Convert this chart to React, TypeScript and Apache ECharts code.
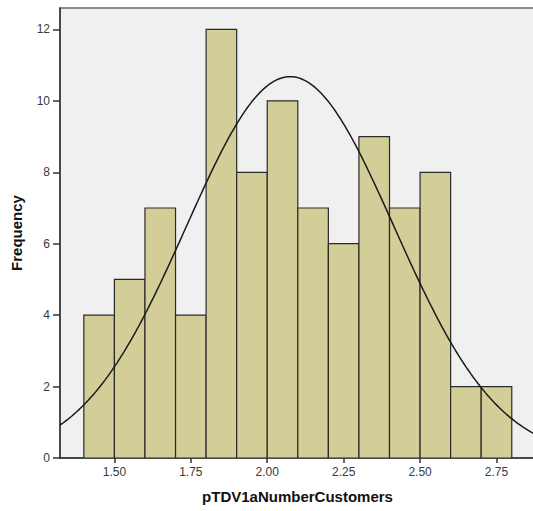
import React, { useEffect, useRef } from "react";
import * as echarts from "echarts";

const binStarts = [1.4, 1.5, 1.6, 1.7, 1.8, 1.9, 2.0, 2.1, 2.2, 2.3, 2.4, 2.5, 2.6, 2.7];
const counts = [4, 5, 7, 4, 12, 8, 10, 7, 6, 9, 7, 8, 2, 2];
const binWidth = 0.1;
const xTicks = [1.5, 1.75, 2.0, 2.25, 2.5, 2.75];
const yTicks = [0, 2, 4, 6, 8, 10, 12];
const fitMean = 2.075;
const fitSd = 0.34;
const fitN = 91;
const xMin = 1.322;
const xMax = 2.876;

export default function App() {
  const ref = useRef<HTMLDivElement>(null);
  useEffect(() => {
    if (!ref.current) return;
    const chart = echarts.init(ref.current, null, { renderer: "svg" });
    const barData = binStarts.map((s, i) => [s, s + binWidth, counts[i]]);
    const curve: number[][] = [];
    const steps = 200;
    for (let i = 0; i <= steps; i++) {
      const x = xMin + ((xMax - xMin) * i) / steps;
      const z = (x - fitMean) / fitSd;
      const y = (fitN * binWidth) / (fitSd * Math.sqrt(2 * Math.PI)) * Math.exp(-0.5 * z * z);
      curve.push([x, y]);
    }
    const font = "'Liberation Sans', Arial, sans-serif";
    chart.setOption({
      animation: false,
      grid: {
        left: 60,
        top: 8,
        right: -2,
        bottom: 53,
        containLabel: false,
        outerBoundsMode: "none",
        show: true,
        backgroundColor: "#f0f0f0",
        borderColor: "#666",
        borderWidth: 1.5,
      },
      xAxis: {
        type: "value",
        min: xMin,
        max: xMax,
        name: "pTDV1aNumberCustomers",
        nameLocation: "middle",
        nameGap: 31,
        nameTextStyle: { fontFamily: font, fontWeight: "bold", fontSize: 15, color: "#111" },
        axisLine: { show: true, onZero: false, lineStyle: { color: "#333", width: 1.5 } },
        axisTick: { show: true, length: 5, customValues: xTicks, lineStyle: { color: "#333", width: 1.5 } },
        axisLabel: {
          customValues: xTicks,
          formatter: (v: number) => v.toFixed(2),
          fontFamily: font,
          fontSize: 12,
          color: "#3a3a3a",
          margin: 8,
        },
        splitLine: { show: false },
      },
      yAxis: {
        type: "value",
        min: 0,
        max: 12.6,
        name: "Frequency",
        nameLocation: "middle",
        nameGap: 36,
        nameTextStyle: { fontFamily: font, fontWeight: "bold", fontSize: 15, color: "#111" },
        axisLine: { show: true, lineStyle: { color: "#333", width: 1.5 } },
        axisTick: { show: true, length: 7, customValues: yTicks, lineStyle: { color: "#333", width: 1.5 } },
        axisLabel: {
          customValues: yTicks,
          fontFamily: font,
          fontSize: 12,
          color: "#3a3a3a",
          margin: 10,
        },
        splitLine: { show: false },
      },
      series: [
        {
          type: "custom",
          data: barData,
          clip: true,
          renderItem: (params: any, api: any) => {
            const p0 = api.coord([api.value(0), api.value(2)]);
            const p1 = api.coord([api.value(1), 0]);
            return {
              type: "rect",
              shape: { x: p0[0], y: p0[1], width: p1[0] - p0[0], height: p1[1] - p0[1] },
              style: { fill: "#d3ce98", stroke: "#2a2a2a", lineWidth: 1.2 },
            };
          },
          encode: { x: [0, 1], y: 2 },
        },
        {
          type: "line",
          data: curve,
          showSymbol: false,
          symbol: "none",
          smooth: false,
          clip: true,
          lineStyle: { color: "#1a1a1a", width: 1.5 },
          z: 5,
        },
      ],
    });
    return () => chart.dispose();
  }, []);
  return (
    <div
      ref={ref}
      style={{ position: "fixed", left: 0, top: 0, width: 533, height: 511, background: "#fff" }}
    />
  );
}
